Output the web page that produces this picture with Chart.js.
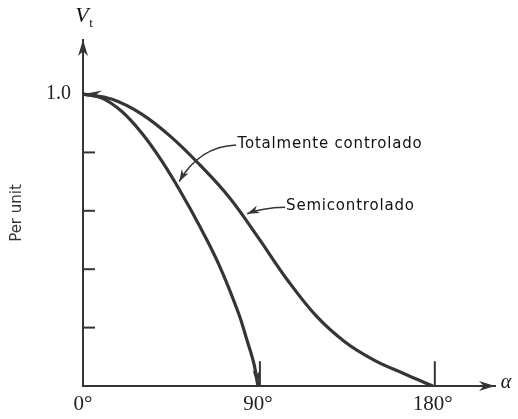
<!DOCTYPE html>
<html><head><meta charset="utf-8">
<script src="https://cdn.jsdelivr.net/npm/chart.js@4/dist/chart.umd.min.js"></script>
<style>html,body{margin:0;padding:0;background:#fff}#wrap{width:518px;height:419px}</style>
</head><body><div id="wrap"><canvas id="c" width="518" height="419"></canvas></div>
<script>
// Data (alpha in degrees, Vt per unit)
const alphaFull = [0, 10, 20, 30, 40, 50, 60, 70, 80, 84, 88, 90];
const vtFull    = [1.0, 0.985, 0.94, 0.868, 0.776, 0.668, 0.548, 0.415, 0.25, 0.165, 0.075, 0.0];
const alphaSemi = [0, 15, 30, 45, 60, 75, 90, 105, 120, 135, 150, 165, 180];
const vtSemi    = [1.0, 0.982, 0.932, 0.855, 0.758, 0.648, 0.51, 0.365, 0.24, 0.15, 0.088, 0.043, 0.0];
const xTickValues = [0, 90, 180];
const xTickLabels = ['0°', '90°', '180°'];
const yTickValues = [0.2, 0.4, 0.6, 0.8, 1.0];
const yTickLabels = ['', '', '', '', '1.0'];
const seriesNames = ['Totalmente controlado', 'Semicontrolado'];

const INK = '#353535';
const pts = (xs, ys) => xs.map((x, i) => ({x, y: ys[i]}));

function arrowHead(ctx, x, y, ang, len, wid) {
  ctx.save();
  ctx.translate(x, y); ctx.rotate(ang);
  ctx.beginPath(); ctx.moveTo(0, 0); ctx.lineTo(-len, -wid); ctx.lineTo(-len * 0.7, 0); ctx.lineTo(-len, wid); ctx.closePath();
  ctx.fill(); ctx.restore();
}

const deco = {
  id: 'deco',
  afterDatasetsDraw(chart) {
    const {ctx, scales: {x, y}} = chart;
    const X = v => x.getPixelForValue(v), Y = v => y.getPixelForValue(v);
    ctx.save();
    ctx.strokeStyle = INK; ctx.fillStyle = INK; ctx.lineWidth = 2;
    // axis arrows
    arrowHead(ctx, x.right, Y(0), 0, 16, 5);
    arrowHead(ctx, X(0), y.top, -Math.PI / 2, 16, 5);
    // inner y ticks
    yTickValues.slice(0, 4).forEach(v => { ctx.beginPath(); ctx.moveTo(X(0), Y(v)); ctx.lineTo(X(0) + 12, Y(v)); ctx.stroke(); });
    // vertical ticks at 90 and 180
    [90, 180].forEach(v => { ctx.beginPath(); ctx.moveTo(X(v) + 2, Y(0)); ctx.lineTo(X(v) + 2, Y(0.085)); ctx.stroke(); });
    // curve end arrows
    arrowHead(ctx, X(89.9), Y(0), Math.PI / 2 - 0.08, 16, 4);
    arrowHead(ctx, X(0.5), Y(1.0), Math.PI + 0.02, 18, 4);
    // leaders
    ctx.lineWidth = 1.5;
    let p0 = [X(78.8), Y(0.825)], c = [X(60), Y(0.82)], p1 = [X(49.5), Y(0.70)];
    ctx.beginPath(); ctx.moveTo(...p0); ctx.quadraticCurveTo(...c, ...p1); ctx.stroke();
    arrowHead(ctx, p1[0], p1[1], Math.atan2(p1[1] - c[1], p1[0] - c[0]), 12, 4);
    p0 = [X(104), Y(0.612)]; c = [X(92), Y(0.61)]; p1 = [X(84.5), Y(0.59)];
    ctx.beginPath(); ctx.moveTo(...p0); ctx.quadraticCurveTo(...c, ...p1); ctx.stroke();
    arrowHead(ctx, p1[0], p1[1], Math.atan2(p1[1] - c[1], p1[0] - c[0]), 12, 4);
    // labels
    ctx.fillStyle = '#111';
    ctx.font = '15px "DejaVu Sans"';
    ctx.letterSpacing = '0.8px';
    ctx.textBaseline = 'middle'; ctx.textAlign = 'left';
    ctx.fillText(seriesNames[0], X(79.5), Y(0.828));
    ctx.fillText(seriesNames[1], X(104.5), Y(0.615));
    ctx.letterSpacing = '0px';
    // axis symbols
    ctx.font = 'italic 22px "Liberation Serif"';
    ctx.textAlign = 'center';
    ctx.fillText('V', X(0) - 1, 16);
    ctx.font = '13px "Liberation Serif"';
    ctx.fillText('t', X(0) + 8, 24);
    ctx.font = 'italic 20px "Liberation Serif"';
    ctx.fillText('α', 506, Y(0) - 3);
    ctx.restore();
  }
};

new Chart(document.getElementById('c'), {
  type: 'scatter',
  data: {
    datasets: [
      {label: seriesNames[0], data: pts(alphaFull, vtFull), showLine: true, tension: 0.4, borderColor: INK, borderWidth: 3.2, pointRadius: 0},
      {label: seriesNames[1], data: pts(alphaSemi, vtSemi), showLine: true, tension: 0.4, borderColor: INK, borderWidth: 3.2, pointRadius: 0}
    ]
  },
  options: {
    responsive: false, animation: false,
    layout: {padding: {top: 40, right: 23, left: 0, bottom: 0}},
    plugins: {legend: {display: false}, tooltip: {enabled: false}},
    scales: {
      x: {
        type: 'linear', min: 0, max: 212,
        afterFit: s => { s.height = 33; },
        afterBuildTicks: s => { s.ticks = xTickValues.map(v => ({value: v})); },
        ticks: {callback: (v) => xTickLabels[xTickValues.indexOf(v)] ?? '', color: '#222', font: {family: '"Liberation Serif"', size: 21}, padding: 6, maxRotation: 0},
        grid: {display: true, drawOnChartArea: false, drawTicks: false},
        border: {color: INK, width: 2}
      },
      y: {
        type: 'linear', min: 0, max: 1.185,
        afterFit: s => { s.width = 83; },
        afterBuildTicks: s => { s.ticks = yTickValues.map(v => ({value: v})); },
        ticks: {callback: (v) => yTickLabels[yTickValues.findIndex(t => Math.abs(t - v) < 1e-6)] ?? '', color: '#222', font: {family: '"Liberation Serif"', size: 20}, padding: 12},
        grid: {display: true, drawOnChartArea: false, drawTicks: false},
        border: {color: INK, width: 2},
        title: {display: true, text: 'Per unit', color: '#333', font: {family: '"DejaVu Sans"', size: 15}, padding: {top: 8, bottom: 30}}
      }
    }
  },
  plugins: [deco]
});
</script></body></html>
